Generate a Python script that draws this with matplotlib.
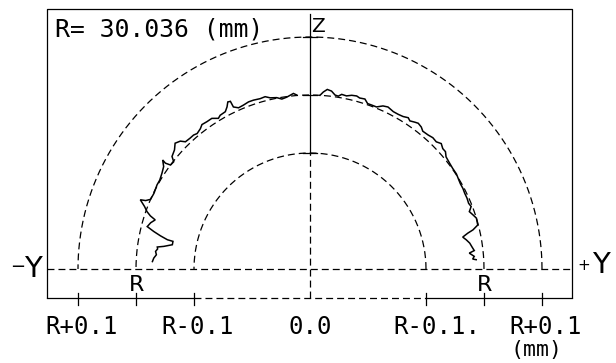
import numpy as np
import matplotlib
matplotlib.use("Agg")
import matplotlib.pyplot as plt

# ---------------- data ----------------
R_mm = 30.036                     # nominal radius
ring_dev_mm = [-0.1, 0.0, 0.1]    # reference circles R-0.1, R, R+0.1
radial_step_mm = 0.1              # one display unit per 0.1 mm
rings_below_center = 3            # centre of the plot is R-0.3

# measured profile: polar angle (deg from +Y) and radial deviation from R (mm)
left_angle_deg = [177.3, 176.0, 174.7, 173.5, 172.5, 171.8, 171.2, 170.0, 168.6, 168.4,
                  167.5, 166.5, 165.4, 163.8, 162.4, 161.6, 160.6, 159.3, 157.8, 157.4,
                  156.4, 154.1, 151.2, 149.4, 147.1, 145.0, 143.5, 143.8, 143.3, 141.8,
                  140.8, 138.7, 137.0, 135.4, 134.4, 132.5, 131.0, 129.8, 128.0, 126.8,
                  125.0, 123.1, 121.3, 120.3, 118.3, 117.1, 116.2, 115.4, 115.3, 113.9,
                  112.1, 110.2, 108.5, 106.3, 104.6, 103.1, 101.0, 99.4, 97.7, 95.4, 94.4]
left_dev_mm = [-0.028, -0.030, -0.034, -0.032, -0.035, -0.034, -0.045, -0.059, -0.059, -0.049,
               -0.036, -0.023, -0.010, -0.014, -0.020, -0.010, -0.002, 0.005, 0.016, 0.007,
               0.000, -0.001, 0.001, 0.001, 0.004, 0.008, 0.016, 0.009, 0.000, -0.001,
               0.007, 0.011, 0.018, 0.014, 0.007, 0.006, 0.006, 0.004, 0.007, 0.011,
               0.010, 0.010, 0.004, 0.007, 0.008, 0.014, 0.021, 0.020, 0.009, 0.004,
               0.005, 0.007, 0.007, 0.006, 0.007, 0.003, 0.001, -0.003, -0.001, 0.004, 0.001]

right_angle_deg = [86.7, 85.7, 84.5, 83.1, 81.8, 80.7, 79.7, 78.1, 76.5, 74.9,
                   73.8, 72.1, 70.8, 69.4, 67.7, 65.9, 64.3, 62.1, 60.3, 58.6,
                   57.0, 56.0, 54.5, 53.4, 51.9, 50.7, 48.6, 46.9, 45.2, 43.7,
                   42.2, 40.9, 39.5, 37.1, 35.2, 33.0, 30.9, 29.5, 27.8, 26.1,
                   24.3, 22.5, 21.2, 19.8, 18.4, 17.0, 14.7, 13.5, 12.8, 11.8,
                   10.6, 9.2, 7.7, 6.4, 5.7, 4.4, 3.5, 3.2]
right_dev_mm = [0.000, 0.006, 0.011, 0.009, 0.003, 0.002, 0.006, 0.005, 0.008, 0.009,
                0.007, 0.008, 0.002, 0.002, 0.002, 0.008, 0.010, 0.007, 0.007, 0.008,
                0.011, 0.008, 0.011, 0.013, 0.011, 0.007, 0.008, 0.010, 0.009, 0.013,
                0.009, 0.009, 0.004, 0.002, 0.001, 0.001, -0.001, -0.002, -0.002, -0.003,
                -0.003, -0.004, -0.002, -0.008, -0.004, 0.000, -0.001, -0.011, -0.021, -0.031,
                -0.026, -0.021, -0.018, -0.015, -0.024, -0.016, -0.019, -0.013]

tick_labels = ["R+0.1", "R-0.1", "0.0", "R-0.1.", "R+0.1"]
tick_devs_mm = [0.1, -0.1, None, -0.1, 0.1]
tick_sides = [-1, -1, 0, 1, 1]

# ---------------- helpers ----------------
def to_disp(dev_mm):
    return np.asarray(dev_mm) / radial_step_mm + rings_below_center

def polar_xy(angle_deg, dev_mm):
    a = np.deg2rad(np.asarray(angle_deg))
    r = to_disp(dev_mm)
    return r * np.cos(a), r * np.sin(a)

# ---------------- figure ----------------
W, H = 616, 363
fig = plt.figure(figsize=(W / 100, H / 100), dpi=100)
ax = fig.add_axes([0, 0, 1, 1])
px = 58.0                       # pixels per display unit
cx, cy = 310.0, 269.0           # centre in pixels (from left / top)
ax.set_xlim(-cx / px, (W - cx) / px)
ax.set_ylim(-(H - cy) / px, cy / px)
ax.set_aspect("equal")
ax.axis("off")

plt.rcParams["lines.scale_dashes"] = False
dash = (0, (5.0, 2.9))
lw_thin = 0.9
black = "black"

# frame
bl, br, bt, bb = -263 / px, 262 / px, 260 / px, -28.5 / px
ax.plot([bl, bl, br, br], [bb, bt, bt, bb], color=black, lw=lw_thin, solid_capstyle="butt")

# reference circles (dashed half circles)
th = np.linspace(0, np.pi, 400)
radii = [to_disp(d) for d in ring_dev_mm]
for r in radii:
    ax.plot(r * np.cos(th), r * np.sin(th), color=black, lw=lw_thin, linestyle=dash)

# Y axis (dashed baseline)
ax.plot([bl, br], [0, 0], color=black, lw=lw_thin, linestyle=dash)

# bottom scale line
r_in, r_mid, r_out = radii
ax.plot([bl, -r_in], [bb, bb], color=black, lw=lw_thin)
ax.plot([-r_in, r_in], [bb, bb], color=black, lw=lw_thin, linestyle=dash)
ax.plot([r_in, br], [bb, bb], color=black, lw=lw_thin)
for r in radii:
    for s in (-1, 1):
        ax.plot([s * r, s * r], [bb + 0.07, bb - 0.13], color=black, lw=lw_thin)

# Z axis (centre line)
ax.plot([0, 0], [r_in, 255 / px], color=black, lw=lw_thin)
ax.plot([0, 0], [bb, r_in], color=black, lw=lw_thin, linestyle=dash)
for r in radii:
    ax.plot([-0.12, 0.12], [r, r], color=black, lw=lw_thin)

# measured profile
xl, yl = polar_xy(left_angle_deg, left_dev_mm)
xr, yr = polar_xy(right_angle_deg, right_dev_mm)
ax.plot(xl, yl, color=black, lw=1.1, solid_joinstyle="miter")
ax.plot(xr, yr, color=black, lw=1.1, solid_joinstyle="miter")

# ---------------- text ----------------
mono = "DejaVu Sans Mono"
sans = "DejaVu Sans"
ax.text(-255 / px, 232 / px, f"R= {R_mm:.3f} (mm)", family=mono, fontsize=17.8,
        ha="left", va="baseline")

char_w = 14.4 / px
for lab, d, s in zip(tick_labels, tick_devs_mm, tick_sides):
    xpos = 0.0 if d is None else s * to_disp(d)
    xc = xpos + 4 / px + (len(lab) - len(lab.rstrip("."))) * char_w / 2
    if d is None:
        xc = xpos
    ax.text(xc, -65 / px, lab, family=mono, fontsize=17.3, ha="center", va="baseline")
ax.text(r_out - 5 / px, -87 / px, "(mm)", family=mono, fontsize=15.5, ha="center", va="baseline")

# R markers under the baseline
for s in (-1, 1):
    ax.text(s * r_mid + 1 / px, -22 / px, "R", family=sans, fontsize=16, ha="center", va="baseline")

# axis names
ax.text(-268 / px, -8 / px, "Y", family=sans, fontsize=21, ha="right", va="baseline")
ax.text(-292 / px, 2 / px, "\u2212", family=sans, fontsize=13, ha="center", va="center")
ax.text(282 / px, -4 / px, "Y", family=sans, fontsize=21, ha="left", va="baseline")
ax.text(274 / px, 4 / px, "+", family=sans, fontsize=11, ha="center", va="center")
ax.text(1 / px, 237 / px, "Z", family=sans, fontsize=14.5, ha="left", va="baseline")

fig.savefig("out.png", dpi=100)
